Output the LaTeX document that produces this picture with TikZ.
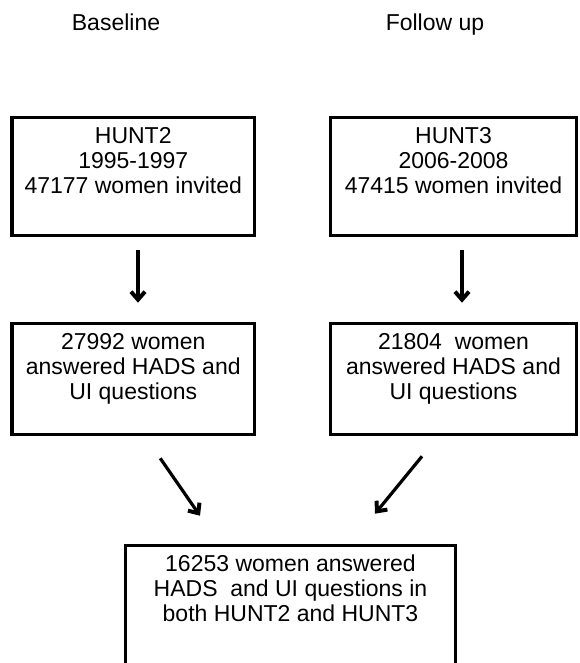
\documentclass[tikz,border=0pt]{standalone}
\usepackage{fontspec}
\setmainfont{Liberation Sans}
\usetikzlibrary{arrows.meta}
\begin{document}
\begin{tikzpicture}[x=1pt,y=-1pt,
  box/.style={draw,line width=3.6pt,rectangle,inner sep=0pt,minimum width=#1},
  txt/.style={align=center,inner sep=0pt,anchor=north,font=\fontsize{23}{25}\selectfont},
  hdr/.style={inner sep=0pt,anchor=base,font=\fontsize{23}{25}\selectfont},
  arr/.style={line width=3.2pt,-{Straight Barb[length=8pt,width=14pt,line width=4pt]}}]
\useasboundingbox (0,0) rectangle (579,663);
\clip (0,0) rectangle (579,663);
\node[hdr] (bl) at (116,31) {Baseline};
\node[hdr] (fu) at (435,31) {Follow up};
% top row
\node[box=242.5pt,minimum height=118pt] (h2) at (133.25,176.5) {};
\node[box=246pt,minimum height=118pt] (h3) at (453.5,176.5) {};
\node[txt] (h2t) at ([yshift=-11.5pt]h2.north) {HUNT2\\1995-1997\\47177 women invited};
\node[txt] (h3t) at ([yshift=-11.5pt]h3.north) {HUNT3\\2006-2008\\47415 women invited};
% second row
\node[box=242.5pt,minimum height=111pt] (b1) at (133.25,379) {};
\node[box=246pt,minimum height=111pt] (b2) at (453.5,379) {};
\node[txt] (b1t) at ([yshift=-11.5pt]b1.north) {27992 women\\answered HADS and\\UI questions};
\node[txt] (b2t) at ([yshift=-11.5pt]b2.north) {21804\ \ women\\answered HADS and\\UI questions};
% bottom
\node[box=330pt,minimum height=134.5pt] (c) at (290.5,612.75) {};
\node[txt] (ct) at ([yshift=-11pt]c.north) {16253 women answered\\HADS\ \ and UI questions in\\both HUNT2 and HUNT3};
% arrows
\draw[arr] ([xshift=4.75pt,yshift=-13pt]h2.south) -- ([xshift=4.75pt,yshift=19pt]b1.north);
\draw[arr] ([xshift=8.5pt,yshift=-13pt]h3.south) -- ([xshift=8.5pt,yshift=19pt]b2.north);
\draw[arr] ([xshift=27pt,yshift=-22pt]b1.south) -- ([xshift=-90.5pt,yshift=28pt]c.north);
\draw[arr] ([xshift=-31.5pt,yshift=-20pt]b2.south) -- ([xshift=84.5pt,yshift=30pt]c.north);
\end{tikzpicture}
\end{document}
